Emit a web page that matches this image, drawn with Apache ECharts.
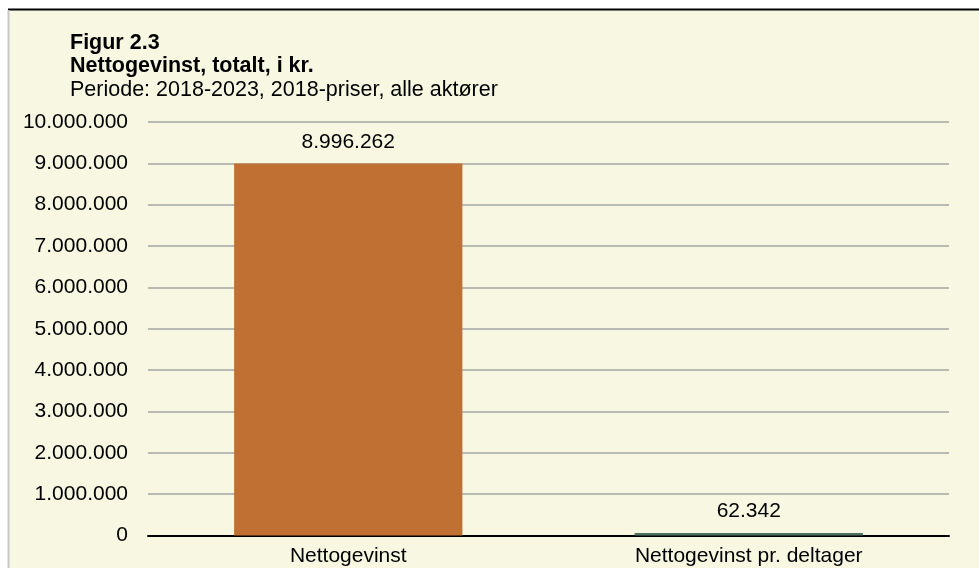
<!DOCTYPE html>
<html><head><meta charset="utf-8">
<script src="https://cdn.jsdelivr.net/npm/echarts@6/dist/echarts.min.js"></script>
<style>html,body{margin:0;padding:0;background:#fff}#c{width:979px;height:568px}</style>
</head><body><div id="c"></div>
<script>
var categories = ['Nettogevinst', 'Nettogevinst pr. deltager'];
var values = [8996262, 62342];
var barColors = ['#C07032', '#4E7262'];
var yTicks = [0, 1000000, 2000000, 3000000, 4000000, 5000000, 6000000, 7000000, 8000000, 9000000, 10000000];
var titleLines = ['Figur 2.3', 'Nettogevinst, totalt, i kr.', 'Periode: 2018-2023, 2018-priser, alle aktører'];

function fmt(v){ return String(Math.round(v)).replace(/\B(?=(\d{3})+(?!\d))/g, '.'); }

var chart = echarts.init(document.getElementById('c'), null, {renderer:'canvas'});
var F = '"Liberation Sans", Arial, sans-serif';
var FS = 21;
var TFS = 21.5;
chart.setOption({
  backgroundColor: '#ffffff',
  animation: false,
  graphic: [
    {type:'rect', z:-10, shape:{x:8, y:9, width:980, height:570}, style:{fill:'#F8F7E2'}},
    {type:'line', z:-5, shape:{x1:8, y1:9.5, x2:979, y2:9.5}, style:{stroke:'#000', lineWidth:2}},
    {type:'line', z:-5, shape:{x1:8.5, y1:10, x2:8.5, y2:568}, style:{stroke:'#c8c8c8', lineWidth:2}},
    {type:'text', left:70, top:32, style:{text:titleLines[0], font:'bold '+TFS+'px '+F, fill:'#000'}},
    {type:'text', left:70, top:55.5, style:{text:titleLines[1], font:'bold '+TFS+'px '+F, fill:'#000'}},
    {type:'text', left:70, top:79, style:{text:titleLines[2], font:TFS+'px '+F, fill:'#000'}}
  ],
  grid: {left:148, right:30, top:122, bottom:32.5, containLabel:false},
  xAxis: {
    type:'category', data: categories,
    axisLine:{show:true, lineStyle:{color:'#000', width:2}},
    axisTick:{show:false},
    axisLabel:{color:'#000', fontFamily:F, fontSize:FS, margin:10}
  },
  yAxis: {
    type:'value', min:yTicks[0], max:yTicks[yTicks.length-1], interval:1000000,
    axisLine:{show:false}, axisTick:{show:false},
    splitLine:{lineStyle:{color:'#a6a6a6', width:1.5}},
    axisLabel:{color:'#000', fontFamily:F, fontSize:FS, margin:20, formatter:function(v){return fmt(v);}}
  },
  series: [{
    type:'bar', barWidth:'57%',
    data: values.map(function(v,i){ return {value:v, itemStyle:{color:barColors[i]}}; }),
    label:{show:true, position:'top', distance:11, color:'#000', fontFamily:F, fontSize:FS, formatter:function(p){return fmt(p.value);}}
  }]
});
</script></body></html>
